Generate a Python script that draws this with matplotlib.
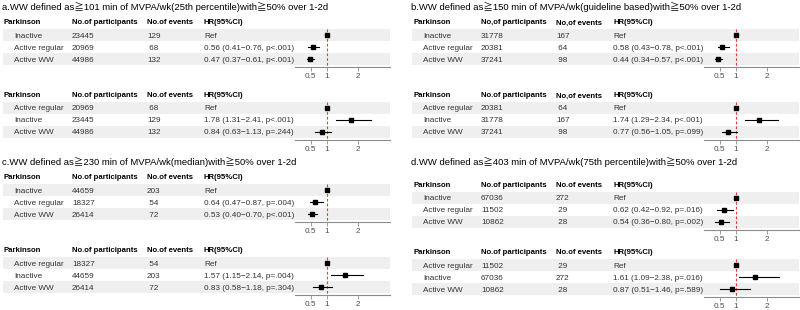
import matplotlib.pyplot as plt

plt.rcParams['font.family'] = ['Liberation Sans', 'Noto Sans CJK SC', 'DejaVu Sans']

titles = [
    'a.WW defined as≧101 min of MVPA/wk(25th percentile)with≧50% over 1-2d',
    'b.WW defined as≧150 min of MVPA/wk(guideline based)with≧50% over 1-2d',
    'c.WW defined as≧230 min of MVPA/wk(median)with≧50% over 1-2d',
    'd.WW defined as≧403 min of MVPA/wk(75th percentile)with≧50% over 1-2d',
]

# participants / events per group, one value per panel a-d
n_inactive = [23445, 31778, 44659, 67036]
n_regular = [20969, 20381, 18327, 11502]
n_ww = [44986, 37241, 26414, 10862]
ev_inactive = [129, 167, 203, 272]
ev_regular = [68, 64, 54, 29]
ev_ww = [132, 98, 72, 28]

# reference = inactive
hr_reg = [0.56, 0.58, 0.64, 0.62]
lo_reg = [0.41, 0.43, 0.47, 0.42]
hi_reg = [0.76, 0.78, 0.87, 0.92]
p_reg = ['p<.001', 'p<.001', 'p=.004', 'p=.016']
hr_ww1 = [0.47, 0.44, 0.53, 0.54]
lo_ww1 = [0.37, 0.34, 0.40, 0.36]
hi_ww1 = [0.61, 0.57, 0.70, 0.80]
p_ww1 = ['p<.001', 'p<.001', 'p<.001', 'p=.002']

# reference = active regular
hr_ina = [1.78, 1.74, 1.57, 1.61]
lo_ina = [1.31, 1.29, 1.15, 1.09]
hi_ina = [2.41, 2.34, 2.14, 2.38]
p_ina = ['p<.001', 'p<.001', 'p=.004', 'p=.016']
hr_ww2 = [0.84, 0.77, 0.83, 0.87]
lo_ww2 = [0.63, 0.56, 0.58, 0.51]
hi_ww2 = [1.13, 1.05, 1.18, 1.46]
p_ww2 = ['p=.244', 'p=.099', 'p=.304', 'p=.589']

# header spelling as printed in each table (upper, lower)
part_head = [('No.of', 'No.of'), ('No,of', 'No.of'), ('No.of', 'No.of'), ('No.of', 'No.of')]
ev_head = [('No.of', 'No.of'), ('No,of', 'No,of'), ('No.of', 'No.of'), ('No.of', 'No.of')]

W, H = 800, 310
fig = plt.figure(figsize=(8, 3.1), dpi=100)

TXT = '#333333'
FS = 5.9
HFS = 5.6


def draw_table(x0, yh, names, ns, evs, hrs, los, his, ps, phead, ehead):
    top = yh - 7
    axis_y = yh + 45
    r0 = yh + 13
    rowh = 12.0
    rect_b = 1 - axis_y / H
    rect_h = (axis_y - top) / H
    tax = fig.add_axes([x0 / W, rect_b, 390 / W, rect_h])
    tax.set_xlim(0, 390)
    tax.axis('off')
    for i in (0, 2):
        tax.axhspan(i - 0.5, i + 0.5, xmin=3 / 390, xmax=1, color='#efefef', lw=0)
    hy = (yh - r0) / rowh + 0.2
    kw = dict(fontsize=HFS, weight='bold', va='baseline')
    tax.text(4, hy, 'Parkinson', **kw)
    tax.text(72, hy, phead + ' participants', **kw)
    tax.text(147, hy, ehead + ' events', **kw)
    tax.text(204, hy, 'HR(95%CI)', **kw)
    for i in range(3):
        kw = dict(fontsize=FS, color=TXT, va='center_baseline')
        tax.text(14, i, names[i], **kw)
        tax.text(72, i, str(ns[i]), **kw)
        ev = str(evs[i]) if evs[i] >= 100 else ' ' + str(evs[i])
        tax.text(147, i, ev, **kw)
        if hrs[i] is None:
            s = 'Ref'
        else:
            s = f'{hrs[i]:.2f} ({los[i]:.2f}\u2212{his[i]:.2f}, {ps[i]})'
        tax.text(204, i, s, **kw)

    fax = fig.add_axes([(x0 + 295) / W, rect_b, 95 / W, rect_h], sharey=tax)
    fax.patch.set_alpha(0)
    fax.set_xlim(0, 3)
    for sp in ('top', 'left', 'right'):
        fax.spines[sp].set_visible(False)
    fax.spines['bottom'].set_color('#8c8c8c')
    fax.spines['bottom'].set_linewidth(0.8)
    fax.set_xticks([0.5, 1, 2])
    fax.set_xticklabels(['0.5', '1', '2'])
    fax.tick_params(axis='x', labelsize=FS, colors='#8c8c8c', labelcolor='#4d4d4d',
                    length=3, width=0.6, pad=1.5)
    fax.tick_params(axis='y', left=False, labelleft=False)
    fax.vlines(1, -0.5, (axis_y - r0) / rowh, colors='#f03b3b',
               linestyles=(0, (2.5, 1.8)), lw=0.8)
    for i in range(3):
        if hrs[i] is None:
            fax.plot([1], [i], 's', color='black', ms=2.6)
        else:
            fax.plot([los[i], his[i]], [i, i], color='black', lw=0.8)
            fax.plot([hrs[i]], [i], 's', color='black', ms=2.6)
    tax.set_ylim((axis_y - r0) / rowh, (top - r0) / rowh)


x_off = [0, 409, 0, 409]
y_title = [7, 7, 162, 162]
y_up = [22, 22, 177, 185]
y_low = [95, 95, 250, 252]

for k in range(4):
    fig.text((x_off[k] + 2) / W, 1 - y_title[k] / H, titles[k], fontsize=6.8,
             va='center', ha='left')
    draw_table(x_off[k], y_up[k],
               ['Inactive', 'Active regular', 'Active WW'],
               [n_inactive[k], n_regular[k], n_ww[k]],
               [ev_inactive[k], ev_regular[k], ev_ww[k]],
               [None, hr_reg[k], hr_ww1[k]],
               [None, lo_reg[k], lo_ww1[k]],
               [None, hi_reg[k], hi_ww1[k]],
               [None, p_reg[k], p_ww1[k]],
               part_head[k][0], ev_head[k][0])
    draw_table(x_off[k], y_low[k],
               ['Active regular', 'Inactive', 'Active WW'],
               [n_regular[k], n_inactive[k], n_ww[k]],
               [ev_regular[k], ev_inactive[k], ev_ww[k]],
               [None, hr_ina[k], hr_ww2[k]],
               [None, lo_ina[k], lo_ww2[k]],
               [None, hi_ina[k], hi_ww2[k]],
               [None, p_ina[k], p_ww2[k]],
               part_head[k][1], ev_head[k][1])

fig.savefig('out.png', dpi=100)
